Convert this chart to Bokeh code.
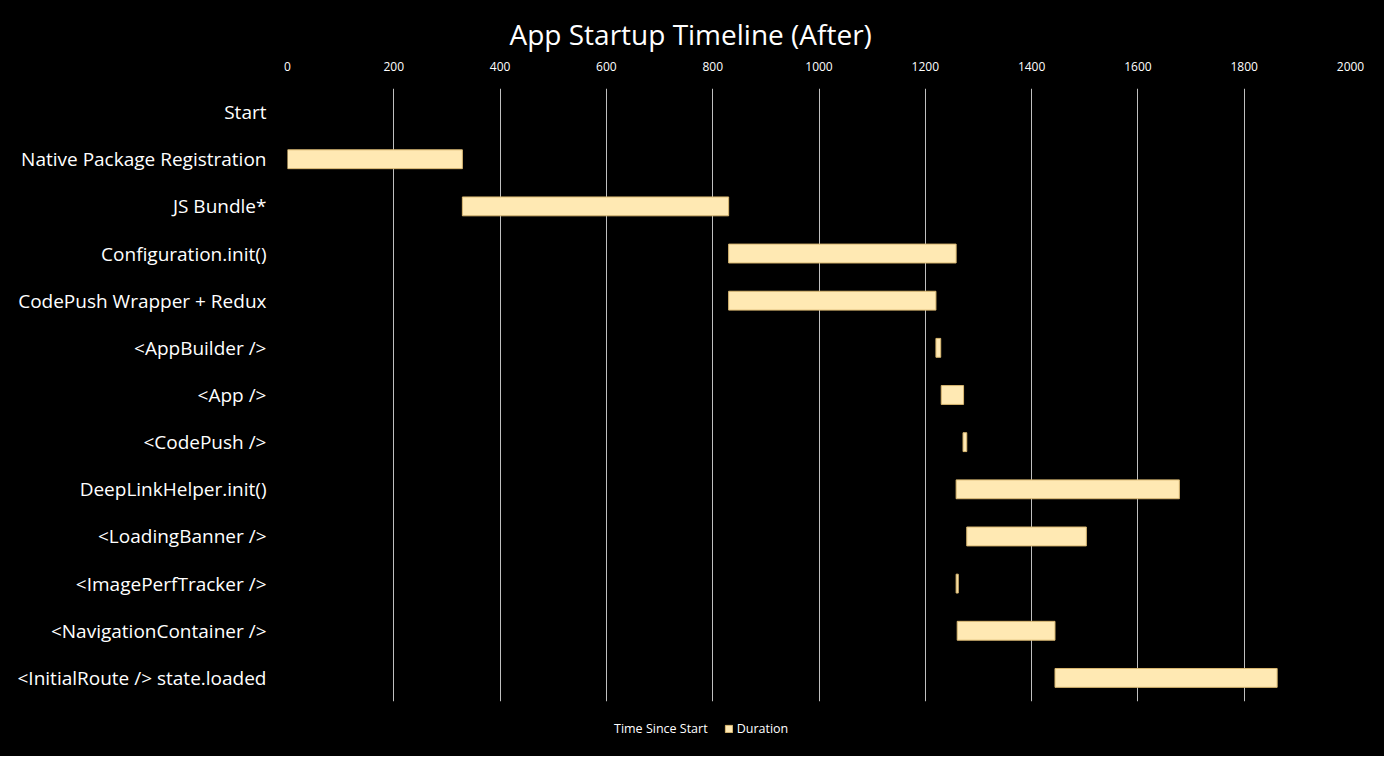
from bokeh.plotting import figure
from bokeh.layouts import column
from bokeh.models import ColumnDataSource, FactorRange, Legend, LegendItem, SingleIntervalTicker
from bokeh.embed import file_html
from bokeh.resources import INLINE

# tasks, top to bottom
categories = [
    "Start",
    "Native Package Registration",
    "JS Bundle*",
    "Configuration.init()",
    "CodePush Wrapper + Redux",
    "<AppBuilder />",
    "<App />",
    "<CodePush />",
    "DeepLinkHelper.init()",
    "<LoadingBanner />",
    "<ImagePerfTracker />",
    "<NavigationContainer />",
    "<InitialRoute /> state.loaded",
]
# ms since start (invisible offset series) and duration (visible series)
time_since_start = [0, 0, 329, 830, 830, 1220, 1230, 1271, 1258, 1278, 1258, 1260, 1444]
duration = [0, 329, 501, 428, 390, 9, 42, 7, 420, 225, 4, 184, 418]

FONT = "Open Sans"
BAR_FILL = "#FFE9B3"
BAR_EDGE = "#D9B872"

end = [s + d for s, d in zip(time_since_start, duration)]
# no outline on zero-length bars
edge = [0.0 if d == 0 else 1.0 for d in duration]
source = ColumnDataSource(data=dict(cat=categories, start=time_since_start,
                                    end=end, zero=[0] * len(categories), edge=edge))

p = figure(width=1384, height=712, output_backend="svg", toolbar_location=None,
           y_range=FactorRange(*reversed(categories), range_padding=0),
           x_range=(0, 2000), x_axis_location="above",
           title="App Startup Timeline (After)")
p.min_border_left = 287
p.min_border_right = 34
p.min_border_top = 88
p.min_border_bottom = 11
p.background_fill_color = "black"
p.border_fill_color = "black"
p.outline_line_color = "black"

# title sits over the middle of the whole picture, not of the frame
p.title.align = "left"
p.title.offset = 222
p.title.text_color = "white"
p.title.text_font = FONT
p.title.text_font_size = "28px"
p.title.text_font_style = "normal"
p.title.standoff = 12

# offset series, drawn with no fill (Excel-style gantt trick)
p.hbar(y="cat", left="zero", right="start", height=0.4, source=source,
       fill_alpha=0, line_alpha=0)
p.hbar(y="cat", left="start", right="end", height=0.4, source=source,
       fill_color=BAR_FILL, fill_alpha="edge",
       line_color=BAR_EDGE, line_width=1, line_alpha="edge")

p.xaxis.ticker = SingleIntervalTicker(interval=200)
p.xaxis.axis_line_color = None
p.xaxis.major_tick_line_color = None
p.xaxis.minor_tick_line_color = None
p.xaxis.major_label_text_color = "white"
p.xaxis.major_label_text_font = FONT
p.xaxis.major_label_text_font_size = "12px"
p.xaxis.major_label_standoff = 12

p.yaxis.axis_line_color = None
p.yaxis.major_tick_line_color = None
p.yaxis.major_label_text_color = "white"
p.yaxis.major_label_text_font = FONT
p.yaxis.major_label_text_font_size = "19px"
p.yaxis.major_label_standoff = 15

p.xgrid.grid_line_color = "#BFBFBF"
p.xgrid.grid_line_width = 1
p.ygrid.grid_line_color = None

# legend strip under the chart (its frame lines up with the chart frame)
lf = figure(width=1384, height=44, output_backend="svg", toolbar_location=None,
            x_range=(0, 1), y_range=(10, 11), x_axis_type=None, y_axis_type=None)
lf.min_border = 0
lf.background_fill_color = "black"
lf.border_fill_color = "black"
lf.outline_line_color = "black"
lf.grid.grid_line_color = None
# zero-size proxies: only their legend swatches are seen
r_off = lf.hbar(y=[0], left=[0], right=[0], height=0, fill_alpha=0, line_alpha=0)
r_dur = lf.hbar(y=[0], left=[0], right=[0], height=0,
                fill_color=BAR_FILL, line_color=BAR_EDGE)

legend = Legend(items=[LegendItem(label="Time Since Start", renderers=[r_off]),
                       LegendItem(label="Duration", renderers=[r_dur])],
                orientation="horizontal", location=(314, 19))
legend.background_fill_alpha = 0
legend.border_line_color = None
legend.label_text_color = "white"
legend.label_text_font = FONT
legend.label_text_font_size = "12.5px"
legend.glyph_width = 9
legend.glyph_height = 9
legend.label_standoff = 4
legend.spacing = 16
legend.margin = 0
legend.padding = 0
lf.add_layout(legend)

layout = column(p, lf, spacing=0, styles={"background-color": "black"})

open("out.html", "w").write(file_html(layout, INLINE))
